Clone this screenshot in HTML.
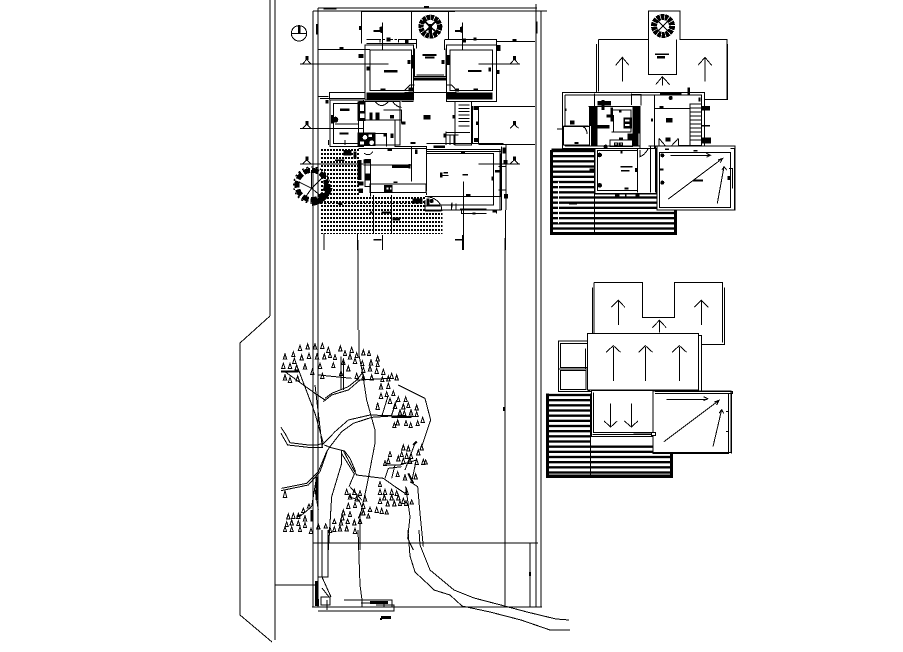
<!DOCTYPE html>
<html><head><meta charset="utf-8"><style>
html,body{margin:0;padding:0;background:#fff;width:903px;height:652px;overflow:hidden}
svg{display:block}
.l{fill:none;stroke:#000;stroke-width:3}
.w{fill:#fff;stroke:#000;stroke-width:3}
.t{fill:none;stroke:#000;stroke-width:9}
.b{fill:#000;stroke:none}
.f{fill:#fff;stroke:none}
</style></head><body>
<svg width="903" height="652" viewBox="0 0 903 652" xmlns="http://www.w3.org/2000/svg" shape-rendering="crispEdges">
<defs>
<pattern id="dots" x="0" y="0" width="9" height="12" patternUnits="userSpaceOnUse"><rect x="0" y="3" width="6" height="6" fill="#000"/></pattern>
<pattern id="stripe" x="0" y="0" width="15" height="15.5" patternUnits="userSpaceOnUse"><rect width="15" height="7" fill="#000"/></pattern>
</defs>
<rect width="903" height="652" fill="#fff"/>

<!-- site -->
<g fill="none" stroke="#000" stroke-width="1">
<path d="M270 0V316M275 0V640"/>
<path d="M313 11V607M318 8V607M536 4V607M541 11V607"/>
<path d="M318 8H537M313 11H547M312 607H542M313 543H538"/>
<path d="M505 543V607M530 543V607M275 585H315"/>
<path d="M358 240V330M505 238V543"/>
</g>
<path d="M270 316L240 343V615L272 642" fill="none" stroke="#000" stroke-width="1"/>
<rect x="529" y="572" width="2" height="4" fill="#000"/>
<rect x="503" y="407" width="2" height="4" fill="#000"/>

<!-- house, in 3x zoom coordinates -->
<g transform="translate(270,0) scale(.33333)">
<rect x="150" y="441" width="117" height="150" fill="url(#dots)"/>
<path d="M150 590H465V630H518V702H150Z" fill="url(#dots)"/>
<g class="l">
<path d="M275 35V130M425 35V120M535 35V120M275 35H555"/>
<path d="M145 148H300M90 192H355M625 192H750M680 125H795M625 320H795M90 385H280M625 433H795M90 492H280M625 492H750"/>
<path d="M337 68V150M578 68V150M337 705V750M578 705V750M580 545V750M707 630V750M262 700V750M162 700V750M310 585V700M365 585V700"/>
<path d="M110 178L98 192M110 178L123 192M733 178L720 192M733 178L746 192M110 373L98 385M110 373L123 385M733 373L720 385M733 373L746 385M110 480L98 492M110 480L123 492M733 480L720 492M733 480L746 492"/>
<circle cx="87" cy="100" r="23"/>
<path d="M64 100H110"/>
<path d="M290 130H440M290 118H330V128M385 128V118H440V145M523 120V150M523 118H680V150"/>
<path d="M285 135H430V300H285ZM300 150H425V272H300Z"/>
<path d="M530 135H680V305H530ZM540 150H668V272H540Z"/>
<path d="M433 145V230H528V145M433 240H528M440 225H522"/>
<path d="M403 272L420 255H433M560 272L545 255H528M403 277H560"/>
<path d="M178 298V278H285M150 295H285M180 300H280V440H180ZM190 310H265V430H190Z"/>
<path d="M195 372H265M195 385H265M265 305H390V435H265M280 360H395M280 400H350V440M340 330H395V370"/>
<path d="M390 310V435M375 360V440H470V450M395 305H430M555 305V435H605V305H555M565 315H598M565 325H598M565 335H598M565 345H598M565 355H598M565 365H598M565 378H598M528 395V435M540 405V435M552 405V435M528 405H565M528 398H600"/>
<path d="M608 318V430M625 318V430H610M470 448H690V630M470 460H670V615H470M695 440V630M708 435V630M685 500H708V570H685"/>
<path d="M470 430H700M470 450V575M470 455H695"/>
<path d="M265 445H470M285 478H302V560H285ZM302 482V590M300 552H468V578H300ZM425 440V545M280 495H425M660 492H695"/>
<path d="M465 590H695M465 600V630H695M465 618H510M470 590A50 40 0 0 1 515 625V630"/>
<path d="M545 610V630M558 610V630M650 630H680V640M575 632V640H650"/>
<path d="M315 305Q335 328 355 305M368 305Q380 322 395 322M282 460Q300 470 308 455"/>
<path d="M175 435V420M225 435V420M145 290H175"/>
<path stroke-dasharray="7 5" d="M178 278H285M290 118H440M523 118H680M410 277H545M470 470V590M470 445V470M150 610H465"/>
</g>
<g class="b">
<rect x="84" y="78" width="8" height="22"/>
<rect x="106" y="168" width="9" height="12"/><rect x="106" y="363" width="9" height="12"/><rect x="106" y="470" width="9" height="12"/><rect x="729" y="168" width="9" height="12"/><rect x="729" y="363" width="9" height="12"/><rect x="729" y="470" width="9" height="12"/>
<rect x="138" y="72" width="7" height="32"/><rect x="797" y="65" width="5" height="35"/>
<rect x="160" y="25" width="40" height="3"/><rect x="462" y="18" width="15" height="6"/>
<rect x="267" y="78" width="7" height="12"/>
<rect x="208" y="141" width="12" height="7"/><rect x="266" y="162" width="15" height="12"/><rect x="728" y="117" width="12" height="7"/>
<rect x="310" y="90" width="25" height="6"/><rect x="555" y="90" width="22" height="6"/>
<path d="M328 82L337 78V100L328 96ZM570 82L578 78V100L570 96Z"/>
<rect x="310" y="717" width="25" height="5"/><rect x="555" y="717" width="22" height="5"/>
<rect x="350" y="113" width="12" height="12"/><rect x="405" y="118" width="10" height="12"/><rect x="578" y="115" width="10" height="12"/><rect x="610" y="112" width="10" height="10"/><rect x="680" y="135" width="12" height="18"/>
<rect x="342" y="210" width="40" height="8"/><rect x="594" y="210" width="40" height="6"/>
<rect x="458" y="162" width="42" height="6"/><rect x="465" y="170" width="28" height="6"/>
<rect x="412" y="180" width="10" height="12"/><rect x="290" y="200" width="8" height="12"/><rect x="655" y="202" width="8" height="12"/><rect x="680" y="210" width="8" height="12"/>
<rect x="530" y="165" width="10" height="30"/><rect x="425" y="165" width="6" height="40"/><rect x="515" y="180" width="8" height="12"/>
<rect x="290" y="277" width="140" height="21"/><rect x="528" y="277" width="140" height="21"/>
<rect x="332" y="265" width="14" height="6"/><rect x="610" y="265" width="14" height="6"/><rect x="415" y="262" width="14" height="12"/><rect x="555" y="265" width="12" height="10"/>
<rect x="432" y="232" width="96" height="9"/>
<rect x="460" y="345" width="22" height="14"/>
<rect x="210" y="326" width="28" height="7"/><rect x="208" y="397" width="28" height="7"/>
<rect x="262" y="305" width="25" height="58"/><rect x="262" y="398" width="55" height="40"/>
<rect x="298" y="337" width="10" height="22"/><rect x="316" y="337" width="12" height="22"/>
<circle cx="196" cy="359" r="9"/><rect x="166" y="300" width="10" height="10"/><rect x="183" y="345" width="6" height="25"/>
<rect x="360" y="345" width="12" height="10"/><rect x="362" y="400" width="8" height="14"/><rect x="395" y="365" width="12" height="8"/><rect x="340" y="400" width="8" height="10"/>
<rect x="422" y="426" width="14" height="6"/><rect x="352" y="447" width="14" height="6"/>
<rect x="490" y="436" width="35" height="8"/><rect x="547" y="345" width="6" height="10"/><rect x="520" y="400" width="8" height="12"/>
<rect x="610" y="318" width="14" height="12"/><rect x="612" y="414" width="12" height="12"/><rect x="618" y="365" width="8" height="10"/>
<rect x="573" y="456" width="12" height="6"/><rect x="220" y="450" width="25" height="16"/><rect x="250" y="455" width="10" height="20"/>
<rect x="195" y="478" width="28" height="5"/><rect x="366" y="496" width="50" height="8"/><rect x="416" y="492" width="6" height="14"/>
<rect x="435" y="448" width="7" height="14"/><rect x="578" y="522" width="16" height="5"/>
<rect x="510" y="518" width="8" height="14"/><rect x="520" y="516" width="14" height="5"/><rect x="515" y="525" width="20" height="3"/>
<rect x="665" y="530" width="6" height="12"/><rect x="588" y="582" width="14" height="6"/><rect x="545" y="608" width="3" height="14"/>
<rect x="690" y="460" width="6" height="130"/><rect x="700" y="480" width="12" height="14"/><rect x="702" y="582" width="12" height="14"/><rect x="675" y="510" width="14" height="7"/><rect x="698" y="442" width="10" height="18"/>
<rect x="280" y="478" width="22" height="12"/><rect x="262" y="480" width="12" height="60"/><rect x="262" y="545" width="18" height="12"/><rect x="265" y="565" width="14" height="14"/>
<rect x="285" y="520" width="18" height="22"/><rect x="342" y="555" width="26" height="22"/><rect x="370" y="545" width="12" height="4"/>
<rect x="428" y="595" width="30" height="16"/><rect x="470" y="595" width="8" height="18"/><circle cx="485" cy="603" r="6"/>
<rect x="465" y="630" width="50" height="5"/><rect x="570" y="625" width="80" height="7"/><rect x="668" y="632" width="12" height="6"/>
<rect x="335" y="634" width="28" height="7"/><rect x="368" y="652" width="22" height="10"/><rect x="205" y="607" width="12" height="8"/>
<rect x="608" y="638" width="8" height="6"/><rect x="300" y="634" width="8" height="6"/>
</g>
<g class="f">
<rect x="270" y="313" width="12" height="20"/><rect x="270" y="340" width="14" height="14"/>
<circle cx="285" cy="412" r="7"/><circle cx="305" cy="428" r="7"/><rect x="270" y="424" width="12" height="10"/><rect x="296" y="404" width="10" height="7"/>
<rect x="350" y="563" width="5" height="5"/><rect x="360" y="563" width="5" height="5"/>
</g>
<!-- north-entry rosette -->
<circle cx="481" cy="80" r="28" fill="none" stroke="#000" stroke-width="16" stroke-dasharray="10 2"/>
<path d="M460 60L502 100M502 60L460 100" stroke="#000" stroke-width="5" fill="none"/>
<rect x="476" y="72" width="10" height="28" fill="#000"/>
<!-- tree -->
<g fill="none" stroke="#000">
<circle cx="125" cy="555" r="44" stroke-width="15" stroke-dasharray="20 6"/>
<circle cx="125" cy="555" r="54" stroke-width="4" stroke-dasharray="6 8"/>
<path d="M125 610Q165 605 180 562" stroke-width="16"/>
<path d="M85 545L125 565L160 530M125 565L100 600M125 565L155 590M125 565L125 510" stroke-width="3"/>
</g>
</g>

<!-- upper right plan, in 3x zoom coordinates -->
<g transform="translate(545,0) scale(.33333)">
<rect x="20" y="450" width="130" height="130" fill="url(#stripe)"/>
<rect x="20" y="580" width="372" height="120" fill="url(#stripe)"/>
<path d="M20 450H150M20 450V700H392V580M20 700H392" class="t"/>
<g class="l">
<path d="M155 132V298H548V132M160 119V275M546 118V298"/>
<path d="M160 118H310V33H405V118H546V275M310 118V224H395V118"/>
<path d="M232 245V172M212 196L232 172L252 196M480 245V172M459 196L480 172L500 196M352 256V230M332 254L352 230L374 254"/>
<rect x="52" y="278" width="427" height="167" class="w"/>
<path d="M60 285H470V437H400M60 285V437H130M148 280V440M260 280V315M328 283V445M130 320H285V445M55 378H130M60 438H285"/>
<path d="M328 325H435M435 312H470V436H435ZM435 324H470M435 336H470M435 348H470M435 360H470M435 372H470M435 384H470M435 396H470M435 408H470M435 420H470"/>
<rect x="56" y="380" width="77" height="55" class="w"/>
<path d="M108 378Q126 382 126 402M258 284H288V316M342 415V445M400 415V445M342 415L370 448L400 415"/>
<rect x="150" y="445" width="185" height="135" class="w"/>
<path d="M158 452H278V572H158ZM278 445V578M316 440V578M332 440V578M285 450V470Q300 465 310 445M150 582H335"/>
<rect x="336" y="438" width="234" height="192" class="w"/>
<path d="M310 438H336M344 458H556V622H344ZM556 446H568V628M552 505H562V565M376 466H496M484 460L496 466L484 472M370 597L533 475M519 480L533 475L526 488M517 610L537 500M531 510L537 500L545 510"/>
<path d="M195 420H262V440H195ZM200 330H258V396H200M205 345V395"/>
</g>
<g class="b">
<rect x="132" y="318" width="25" height="60"/><rect x="138" y="378" width="20" height="62"/><rect x="155" y="375" width="38" height="10"/>
<rect x="262" y="320" width="24" height="80"/><rect x="248" y="400" width="14" height="20"/><rect x="262" y="400" width="18" height="38"/>
<rect x="196" y="322" width="8" height="42"/><rect x="185" y="344" width="12" height="8"/>
<rect x="158" y="303" width="40" height="14"/><rect x="170" y="300" width="8" height="30"/><rect x="235" y="352" width="26" height="34"/><rect x="222" y="330" width="8" height="8"/><rect x="222" y="412" width="12" height="6"/>
<rect x="207" y="427" width="14" height="9"/><rect x="222" y="427" width="12" height="9"/>
<rect x="345" y="278" width="65" height="6"/><rect x="427" y="262" width="8" height="25"/><rect x="343" y="318" width="12" height="7"/>
<rect x="363" y="354" width="20" height="14"/><rect x="318" y="355" width="6" height="10"/>
<rect x="470" y="318" width="25" height="14"/><rect x="470" y="375" width="25" height="5"/><rect x="470" y="412" width="28" height="18"/><rect x="36" y="385" width="18" height="4"/>
<rect x="75" y="362" width="14" height="12"/><rect x="88" y="426" width="12" height="6"/><rect x="60" y="325" width="4" height="8"/><rect x="460" y="292" width="6" height="12"/>
<rect x="362" y="412" width="14" height="12"/><rect x="360" y="445" width="12" height="5"/><rect x="445" y="450" width="12" height="5"/>
<circle cx="377" cy="294" r="6"/><circle cx="164" cy="465" r="7"/><circle cx="164" cy="556" r="7"/><circle cx="182" cy="440" r="6"/><circle cx="352" cy="466" r="6"/><circle cx="352" cy="548" r="6"/>
<rect x="226" y="498" width="36" height="5"/><rect x="228" y="510" width="26" height="5"/><rect x="270" y="504" width="8" height="12"/><rect x="226" y="450" width="6" height="10"/>
<rect x="133" y="505" width="16" height="12"/><rect x="238" y="562" width="12" height="6"/><rect x="210" y="580" width="14" height="16"/><rect x="272" y="580" width="12" height="16"/><rect x="240" y="580" width="4" height="16"/>
<rect x="342" y="505" width="14" height="6"/><rect x="444" y="538" width="30" height="7"/><rect x="548" y="528" width="7" height="12"/><rect x="72" y="609" width="24" height="4"/>
<rect x="330" y="160" width="42" height="5"/><rect x="336" y="168" width="24" height="8"/>
</g>
<g class="f">
<rect x="240" y="358" width="14" height="6"/><rect x="240" y="372" width="14" height="6"/>
<rect x="210" y="430" width="6" height="4"/><rect x="226" y="430" width="5" height="4"/>
</g>
<path d="M40 545V670" fill="none" stroke="#fff" stroke-width="3"/>
<path d="M149 450V700" fill="none" stroke="#000" stroke-width="3"/>
<circle cx="354" cy="78" r="27" fill="none" stroke="#000" stroke-width="18" stroke-dasharray="10 2"/>
<path d="M336 60L372 96M372 60L336 96" stroke="#000" stroke-width="4"/>
</g>

<!-- lower right plan, in 3x zoom coordinates -->
<g transform="translate(540,275) scale(.33333)">
<rect x="22" y="355" width="130" height="155" fill="url(#stripe)"/>
<rect x="22" y="510" width="372" height="95" fill="url(#stripe)"/>
<path d="M22 355V605H394V535M22 603H394" class="t"/>
<path d="M152 355V605" fill="none" stroke="#000" stroke-width="3"/>
<g class="l">
<path d="M157 38V208H554V38M548 38V202"/>
<path d="M162 22H307V127H403V22H548V200M162 22V175"/>
<path d="M235 150V76M214 97L235 76L255 97M484 150V76M463 97L484 76L505 97M358 172V136M337 158L358 136L379 158"/>
<rect x="56" y="198" width="90" height="152" class="w"/>
<rect x="62" y="205" width="80" height="72" />
<rect x="62" y="286" width="76" height="58" />
<path d="M56 282H146M136 220V280"/>
<rect x="148" y="181" width="337" height="168" class="w"/>
<rect x="142" y="175" width="334" height="170" class="w"/>
<path d="M220 318V216M198 232L220 212L242 232M316 318V216M296 232L316 212L338 232M418 318V216M396 232L418 212L440 232"/>
<rect x="154" y="347" width="186" height="137" class="w"/>
<path d="M160 352V472H335M157 478H345M212 385V455M192 438L212 456L232 438M274 385V455M253 438L274 456L294 438"/>
<rect x="339" y="348" width="234" height="184" class="w"/>
<path d="M345 350H578V355H345M566 355V535H338M574 352V535M558 410H566V470H558M379 373H503M491 365L503 371L491 377M372 500L537 376M523 381L537 376L530 390M519 515L545 404M537 415L545 404L551 415"/>
</g>
<rect x="280" y="476" width="55" height="4" fill="#000"/>
<rect x="334" y="472" width="12" height="10" fill="#fff" stroke="#000" stroke-width="3"/>
</g>

<!-- large tree, in 3x zoom coordinates -->
<g transform="translate(235,330) scale(.33333)">
<g fill="none" stroke="#000" stroke-width="3">
<path d="M138 292L150 310L165 338L220 345L245 345L265 340L240 250L185 105M138 310L158 345L220 352L262 352L240 165M262 345L300 305L340 270L405 255L550 260M285 350L320 305L355 280L410 262L470 258"/>
<path d="M268 345L285 352L325 362L345 400L365 435L405 440L445 445L480 470L510 490M285 350L275 365L250 425L215 460L140 475M278 360L255 425L220 465L138 482M318 368L335 395L358 432L342 470M328 362L345 385L362 425"/>
<path d="M270 205L290 190L340 170L365 150L385 125M265 215L290 195L340 180L375 150M140 125L190 125M250 135L350 145M318 80V180M325 85V180M365 150L470 145"/>
<path d="M460 195L440 260M485 210L470 255M150 125L240 190L270 210"/>
<path d="M448 405L495 405L545 390M450 445L460 415L500 410M470 445L480 405M540 340L510 420M530 455L545 385M200 555L230 530L245 440M240 480L250 540"/>
<path d="M340 500L372 510L382 535L370 565M345 470L380 510M490 165L570 205L587 270L560 350"/>
<path d="M372 0V75L382 125L395 210L420 300V340L395 470L375 560V660M320 360V400L290 500L280 660"/>
<path d="M525 455L548 470L555 550L565 650M512 470L525 560L518 625L535 660"/>
</g>
<path d="M138 125H190M470 261H530M535 345L545 335M520 430L535 460M245 440V510M230 540V575M185 560L200 555" fill="none" stroke="#000" stroke-width="6"/>
<path fill="none" stroke="#000" stroke-width="3" d="M150 72l-5 15h10zM175 65l-5 15h10zM195 46l-5 15h10zM218 42l-5 15h10zM240 42l-5 15h10zM262 40l-5 15h10zM280 52l-5 15h10zM178 85l-5 15h10zM200 75l-5 15h10zM222 70l-5 15h10zM246 72l-5 15h10zM268 72l-5 15h10zM285 68l-5 15h10zM300 74l-5 15h10zM316 48l-5 15h10zM330 62l-5 15h10zM350 52l-5 15h10zM365 68l-5 15h10zM385 60l-5 15h10zM402 62l-5 15h10zM428 78l-5 15h10zM145 100l-5 15h10zM165 100l-5 15h10zM185 105l-5 15h10zM210 102l-5 15h10zM232 118l-5 15h10zM255 100l-5 15h10zM295 98l-5 15h10zM325 88l-5 15h10zM345 72l-5 15h10zM360 85l-5 15h10zM382 92l-5 15h10zM408 90l-5 15h10zM428 95l-5 15h10zM340 108l-5 15h10zM385 112l-5 15h10zM405 108l-5 15h10zM425 115l-5 15h10zM445 118l-5 15h10zM150 135l-5 15h10zM165 142l-5 15h10zM188 138l-5 15h10zM262 130l-5 15h10zM318 122l-5 15h10zM365 130l-5 15h10zM385 135l-5 15h10zM410 135l-5 15h10zM442 140l-5 15h10zM460 138l-5 15h10zM470 130l-5 15h10zM485 135l-5 15h10zM438 162l-5 15h10zM460 160l-5 15h10zM475 182l-5 15h10zM438 190l-5 15h10zM455 185l-5 15h10zM490 200l-5 15h10zM512 200l-5 15h10zM465 205l-5 15h10zM428 218l-5 20h10zM480 220l-5 15h10zM505 222l-5 15h10zM520 218l-5 15h10zM545 225l-5 15h10zM495 240l-5 15h10zM508 242l-5 15h10zM528 240l-5 15h10zM545 245l-5 15h10zM563 262l-5 15h10zM488 270l-5 15h10zM478 278l-5 15h10zM513 272l-5 15h10zM527 278l-5 15h10zM548 272l-5 15h10zM505 345l-5 15h10zM520 348l-5 15h10zM560 345l-5 15h10zM500 365l-5 15h10zM515 370l-5 15h10zM528 370l-5 15h10zM550 360l-5 15h10zM465 365l-5 15h10zM490 378l-5 15h10zM460 385l-5 15h10zM450 392l-5 15h10zM505 385l-5 15h10zM525 385l-5 15h10zM545 388l-5 15h10zM565 388l-5 15h10zM572 390l-5 12h10zM488 425l-5 15h10zM510 435l-5 15h10zM542 432l-5 15h10zM150 482l-5 20h10zM435 455l-5 15h10zM435 478l-5 15h10zM450 478l-5 15h10zM470 478l-5 15h10zM485 482l-5 15h10zM515 478l-5 15h10zM448 495l-5 15h10zM470 495l-5 15h10zM490 495l-5 15h10zM505 505l-5 15h10zM530 510l-5 12h10zM435 505l-5 15h10zM458 513l-5 15h10zM478 513l-5 15h10zM495 512l-5 15h10zM513 512l-5 15h10zM335 478l-5 15h10zM358 478l-5 15h10zM375 482l-5 15h10zM345 492l-5 15h10zM365 498l-5 15h10zM390 498l-5 15h10zM340 520l-5 15h10zM360 518l-5 15h10zM385 520l-5 15h10zM405 532l-5 12h10zM425 532l-5 15h10zM440 535l-5 15h10zM455 540l-5 12h10zM325 540l-5 15h10zM345 545l-5 15h10zM385 540l-5 15h10zM400 552l-5 12h10zM160 552l-5 15h10zM175 550l-5 15h10zM190 550l-5 15h10zM205 535l-5 12h10zM222 522l-5 12h10zM155 575l-5 15h10zM170 570l-5 15h10zM190 572l-5 15h10zM210 558l-5 15h10zM322 555l-5 15h10zM298 568l-5 12h10zM318 570l-5 15h10zM338 568l-5 12h10zM358 570l-5 15h10zM375 565l-5 15h10zM150 590l-5 15h10zM170 590l-5 15h10zM195 590l-5 15h10zM210 578l-5 15h10zM228 595l-5 15h10zM250 582l-5 15h10zM272 582l-5 12h10zM285 592l-5 15h10zM298 590l-5 15h10zM315 588l-5 15h10zM335 588l-5 15h10zM360 595l-5 15h10z"/>
</g>

<!-- bottom-left detail -->
<g fill="none" stroke="#000" stroke-width="1">
<path d="M318 575V607M318 577H322V530M318 577H328V530"/>
<path d="M321 597H330V605H321ZM327 600V610"/>
<path d="M344 600H361M361 600H392V607M362 600V607M361 603H384V607M376 605H394V611H318"/>
</g>
<path d="M322 577L331 597M322 588L329 597" fill="none" stroke="#000"/>
<path d="M358 530L360 585L362 600" fill="none" stroke="#000"/>
<rect x="315" y="581" width="3" height="25" fill="#000"/>
<rect x="316" y="599" width="3" height="7" fill="#000"/>
<rect x="370" y="601" width="18" height="3" fill="#000"/>
<rect x="381" y="616" width="10" height="3" fill="#000"/>
<rect x="380" y="618" width="2" height="2" fill="#000"/>

<!-- river lines -->
<path d="M408 530L410 556L415 572L430 586L434 590L450 595L462 606L490 612L521 620L550 630L570 630" fill="none" stroke="#000"/>
<path d="M419 530L420 545L430 570L454 590L474 598L497 604L527 612L556 619L569 620" fill="none" stroke="#000"/>
</svg>
</body></html>
